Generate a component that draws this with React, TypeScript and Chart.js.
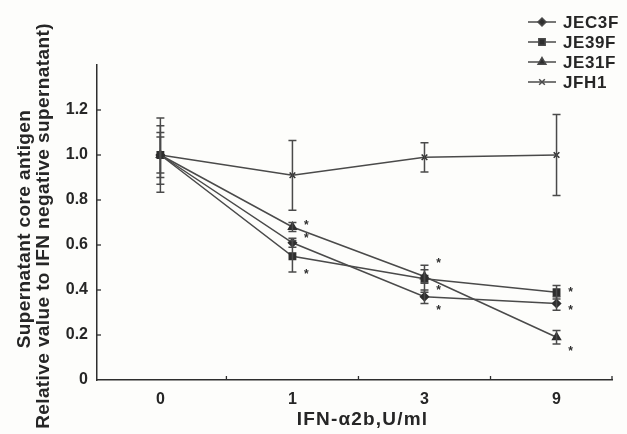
import React, { useEffect, useRef } from "react";
import { Chart, registerables } from "chart.js";
import { drawPoint } from "chart.js/helpers";
Chart.register(...registerables);

const categories = ["0", "1", "3", "9"];
const seriesNames = ["JEC3F", "JE39F", "JE31F", "JFH1"];
const pointStyles = ["rectRot", "rect", "triangle", "crossRot"];
const pointRadii = [4, 4.5, 4.5, 4];
const jec3f = [1.0, 0.61, 0.37, 0.34];
const je39f = [1.0, 0.55, 0.45, 0.39];
const je31f = [1.0, 0.68, 0.46, 0.19];
const jfh1 = [1.0, 0.91, 0.99, 1.0];
const jec3fErr = [0.1, 0.02, 0.03, 0.03];
const je39fErr = [0.13, 0.07, 0.06, 0.03];
const je31fErr = [0.08, 0.02, 0.03, 0.03];
const jfh1Err = [0.165, 0.155, 0.065, 0.18];
const yTicks = [0, 0.2, 0.4, 0.6, 0.8, 1.0, 1.2];
const xMin = -0.48;
const xMax = 3.42;
const starIndex = [1, 1, 1, 2, 2, 2, 3, 3, 3];
const starValue = [0.7, 0.64, 0.48, 0.53, 0.41, 0.32, 0.4, 0.32, 0.14];
const xTitle = "IFN-\u03b12b,U/ml";
const yTitle1 = "Supernatant core antigen";
const yTitle2 = "Relative value to IFN negative supernatant)";

const seriesValues = [jec3f, je39f, je31f, jfh1];
const seriesErrors = [jec3fErr, je39fErr, je31fErr, jfh1Err];

const INK = "#2e2e2e";
const LINE = "#4a4a4a";
const FONT = "'Liberation Sans', Arial, sans-serif";

const decorPlugin = {
  id: "decor",
  afterDatasetsDraw(chart: any) {
    const ctx = chart.ctx;
    const xs = chart.scales.x;
    const ys = chart.scales.y;
    const area = chart.chartArea;
    ctx.save();
    // error bars
    ctx.strokeStyle = LINE;
    ctx.lineWidth = 1.5;
    seriesValues.forEach((vals, si) => {
      vals.forEach((v, i) => {
        const e = seriesErrors[si][i];
        const x = xs.getPixelForValue(i);
        const y1 = ys.getPixelForValue(v + e);
        const y2 = ys.getPixelForValue(v - e);
        ctx.beginPath();
        ctx.moveTo(x, y1);
        ctx.lineTo(x, y2);
        ctx.moveTo(x - 4, y1);
        ctx.lineTo(x + 4, y1);
        ctx.moveTo(x - 4, y2);
        ctx.lineTo(x + 4, y2);
        ctx.stroke();
      });
    });
    // inward ticks
    ctx.strokeStyle = INK;
    ctx.lineWidth = 1.3;
    yTicks.forEach((t) => {
      if (t === 0) return;
      const y = ys.getPixelForValue(t);
      ctx.beginPath();
      ctx.moveTo(area.left, y);
      ctx.lineTo(area.left + 4, y);
      ctx.stroke();
    });
    for (let i = 0; i < categories.length; i++) {
      const x = i < categories.length - 1 ? xs.getPixelForValue(i + 0.5) : area.right;
      ctx.beginPath();
      ctx.moveTo(x, area.bottom);
      ctx.lineTo(x, area.bottom - 4);
      ctx.stroke();
    }
    // asterisks
    ctx.fillStyle = INK;
    ctx.font = `bold 12px ${FONT}`;
    ctx.textAlign = "center";
    ctx.textBaseline = "middle";
    starIndex.forEach((idx, k) => {
      const x = xs.getPixelForValue(idx) + 14;
      const y = ys.getPixelForValue(starValue[k]);
      ctx.fillText("*", x, y + 3);
    });
    // axis titles
    ctx.fillStyle = "#262626";
    ctx.font = `bold 19px ${FONT}`;
    (ctx as any).letterSpacing = "1.2px";
    ctx.fillText(xTitle, (area.left + area.right) / 2 + 8, 420);
    (ctx as any).letterSpacing = "0.4px";
    ctx.save();
    ctx.translate(25, 229);
    ctx.rotate(-Math.PI / 2);
    ctx.fillText(yTitle1, 0, 0);
    ctx.restore();
    ctx.save();
    ctx.translate(44, 226);
    ctx.rotate(-Math.PI / 2);
    ctx.fillText(yTitle2, 0, 0);
    ctx.restore();
    // legend
    ctx.font = `bold 17px ${FONT}`;
    (ctx as any).letterSpacing = "0.6px";
    seriesNames.forEach((name, si) => {
      const y = 22 + si * 20;
      ctx.strokeStyle = LINE;
      ctx.lineWidth = 1.5;
      ctx.beginPath();
      ctx.moveTo(528, y);
      ctx.lineTo(556, y);
      ctx.stroke();
      ctx.fillStyle = INK;
      drawPoint(ctx, { pointStyle: pointStyles[si], radius: pointRadii[si], borderWidth: 1.5, rotation: 0 } as any, 542, y);
      ctx.fillStyle = "#262626";
      ctx.textAlign = "left";
      ctx.fillText(name, 563, y + 1);
    });
    (ctx as any).letterSpacing = "0px";
    ctx.restore();
  },
};

export default function App() {
  const ref = useRef<HTMLCanvasElement>(null);
  useEffect(() => {
    document.body.style.margin = "0";
    document.body.style.background = "#fdfdfb";
    const chart = new Chart(ref.current as HTMLCanvasElement, {
      type: "line",
      data: {
        datasets: seriesNames.map((name, si) => ({
          label: name,
          data: seriesValues[si].map((v, i) => ({ x: i, y: v })),
          borderColor: LINE,
          backgroundColor: INK,
          borderWidth: 1.5,
          pointStyle: pointStyles[si] as any,
          pointRadius: pointRadii[si],
          pointBorderColor: INK,
          pointBackgroundColor: INK,
          pointBorderWidth: 1.5,
          tension: 0,
        })),
      },
      options: {
        animation: false,
        responsive: false,
        layout: { padding: { left: 0, top: 65, right: 15, bottom: 0 } },
        plugins: { legend: { display: false }, tooltip: { enabled: false } },
        scales: {
          x: {
            type: "linear",
            min: xMin,
            max: xMax,
            grid: { display: false, drawTicks: false },
            border: { display: true, color: INK, width: 1.5 },
            afterBuildTicks: (s: any) => {
              s.ticks = categories.map((_, i) => ({ value: i }));
            },
            ticks: {
              color: "#262626",
              font: { family: FONT, size: 16, weight: "bold" },
              padding: 10,
              callback: (v: any) => categories[Math.round(Number(v))] ?? "",
            },
            afterFit: (s: any) => {
              s.height = 54;
            },
          },
          y: {
            min: 0,
            max: 1.4,
            grid: { display: false, drawTicks: false },
            border: { display: true, color: INK, width: 1.5 },
            ticks: {
              stepSize: 0.2,
              color: "#262626",
              font: { family: FONT, size: 16, weight: "bold" },
              padding: 9,
              callback: (v: any) => {
                const n = Number(v);
                if (n > 1.3) return "";
                if (n === 0) return "0";
                return n.toFixed(1);
              },
            },
            afterFit: (s: any) => {
              s.width = 97;
            },
          },
        },
      },
      plugins: [decorPlugin],
    });
    return () => chart.destroy();
  }, []);
  return <canvas ref={ref} width={627} height={434} style={{ display: "block" }} />;
}
